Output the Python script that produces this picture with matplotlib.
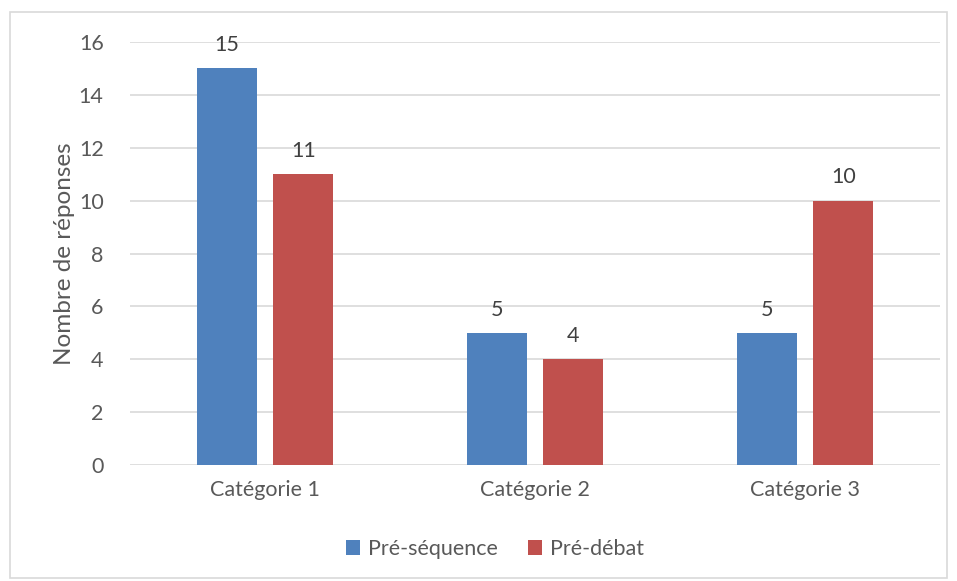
import matplotlib
matplotlib.use("Agg")
import matplotlib.pyplot as plt
from matplotlib.patches import Rectangle
import numpy as np

categories = ["Catégorie 1", "Catégorie 2", "Catégorie 3"]
pre_sequence = [15, 5, 5]
pre_debat = [11, 4, 10]
series_names = ["Pré-séquence", "Pré-débat"]
yticks = [0, 2, 4, 6, 8, 10, 12, 14, 16]

plt.rcParams['font.family'] = ['Lato', 'DejaVu Sans']
txt = '#595959'

fig = plt.figure(figsize=(9.57, 5.81), dpi=100)
fig.patches.append(Rectangle((10/957, 1-578/581), 937/957, 566/581, transform=fig.transFigure,
                             fill=False, edgecolor='#d9d9d9', linewidth=1.2))
ax = fig.add_axes([130/957, 1-465/581, 810/957, 423/581])

x = np.arange(len(categories))
w = 0.222
off = 0.142
b1 = ax.bar(x - off, pre_sequence, w, color='#4F81BD', label=series_names[0], zorder=3)
b2 = ax.bar(x + off, pre_debat, w, color='#C0504D', label=series_names[1], zorder=3)
for bars in (b1, b2):
    for r in bars:
        ax.text(r.get_x() + r.get_width()/2, r.get_height() + 0.5, f"{int(r.get_height())}",
                ha='center', va='bottom', fontsize=15.5, color='#404040')

ax.set_xlim(-0.5, 2.5)
ax.set_ylim(0, 16)
ax.set_yticks(yticks)
ax.set_xticks(x)
ax.set_xticklabels(categories)
ax.tick_params(axis='both', length=0, labelsize=15.5, colors=txt)
ax.tick_params(axis='y', pad=19)
ax.tick_params(axis='x', pad=11)
ax.yaxis.grid(True, color='#d9d9d9', linewidth=1.2, zorder=0)
for s in ax.spines.values():
    s.set_visible(False)
ax.set_ylabel("Nombre de réponses", fontsize=17.5, color=txt, labelpad=3)

leg = fig.legend(loc='center', bbox_to_anchor=(495/957, 1-549/581), ncol=2, frameon=False,
                 fontsize=15.5, handlelength=0.65, handleheight=0.65, columnspacing=1.4,
                 handletextpad=0.35, labelcolor=txt)

fig.savefig("out.png", dpi=100)
